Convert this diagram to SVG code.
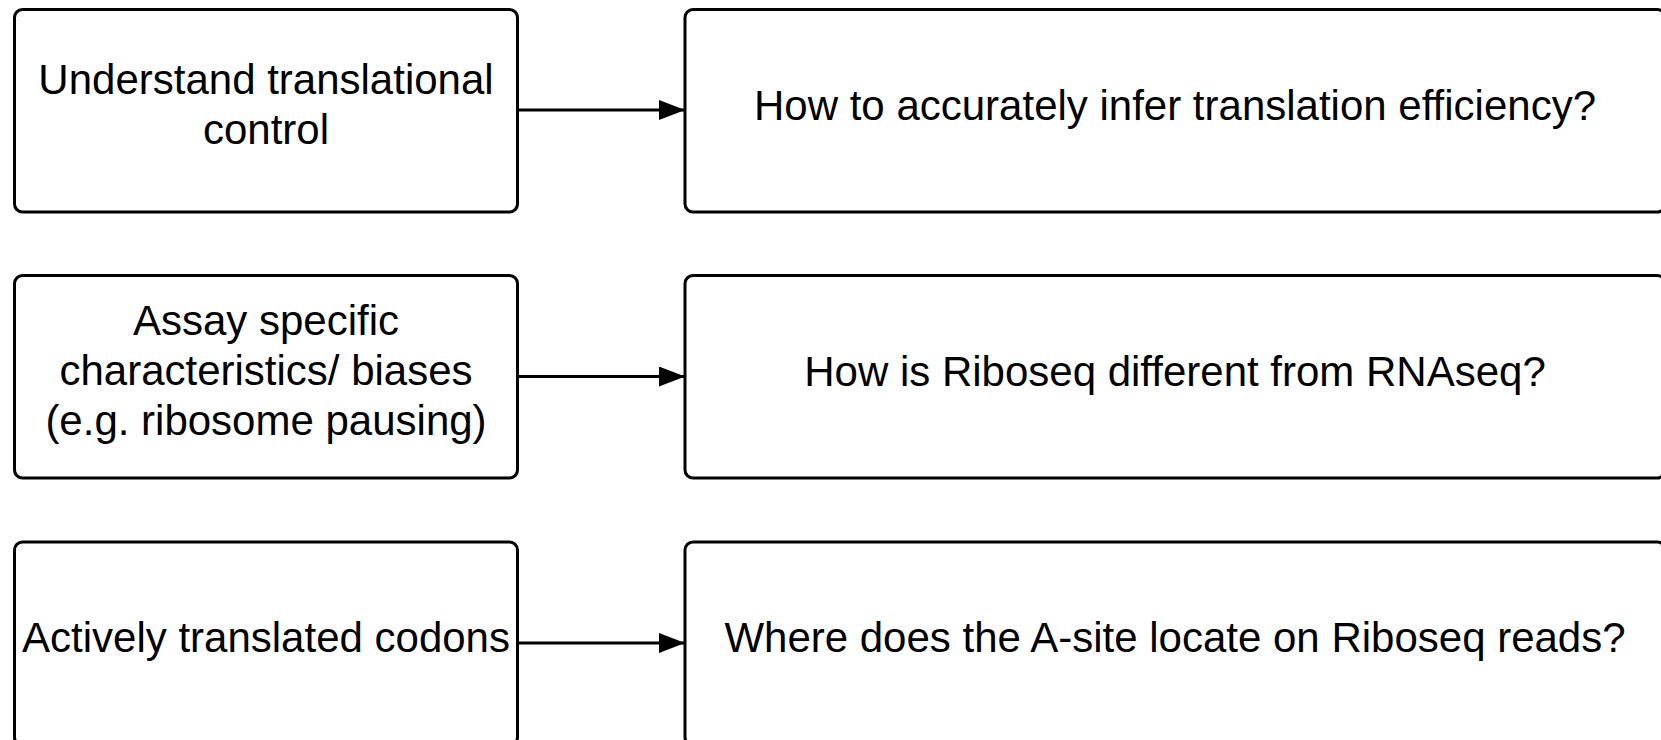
<svg xmlns="http://www.w3.org/2000/svg" width="1661" height="740" viewBox="0 0 1661 740">
<style>
.box{fill:#fff;stroke:#000;stroke-width:3}
.t{font-family:"Liberation Sans",Arial,sans-serif;font-size:42px;fill:#000;text-anchor:middle}
.c{stroke:#000;stroke-width:3;fill:none}
</style>
<defs>
<marker id="ah" markerUnits="userSpaceOnUse" markerWidth="27" markerHeight="20" refX="26" refY="10" orient="auto">
<path d="M0,0 L26,10 L0,20 Z" fill="#000"/>
</marker>
</defs>
<rect width="1661" height="740" fill="#fff"/>
<g id="n1">
<rect class="box" x="14.5" y="9.5" width="503" height="202.5" rx="8"/>
<text class="t" x="266" y="93.5">Understand translational</text>
<text class="t" x="266" y="143.5">control</text>
</g>
<g id="n2">
<rect class="box" x="685" y="9.5" width="980" height="202.5" rx="8"/>
<text class="t" x="1175" y="119.5">How to accurately infer translation efficiency?</text>
</g>
<g id="n3">
<rect class="box" x="14.5" y="275.5" width="503" height="202.5" rx="8"/>
<text class="t" x="266" y="334.5">Assay specific</text>
<text class="t" x="266" y="384.5">characteristics/ biases</text>
<text class="t" x="266" y="434.5">(e.g. ribosome pausing)</text>
</g>
<g id="n4">
<rect class="box" x="685" y="275.5" width="980" height="202.5" rx="8"/>
<text class="t" x="1175" y="385.5">How is Riboseq different from RNAseq?</text>
</g>
<g id="n5">
<rect class="box" x="14.5" y="542" width="503" height="203" rx="8"/>
<text class="t" x="266" y="652">Actively translated codons</text>
</g>
<g id="n6">
<rect class="box" x="685" y="542" width="980" height="203" rx="8"/>
<text class="t" x="1175" y="652">Where does the A-site locate on Riboseq reads?</text>
</g>
<g id="connectors">
<line class="c" x1="517.5" y1="110" x2="685" y2="110" marker-end="url(#ah)"/>
<line class="c" x1="517.5" y1="376.5" x2="685" y2="376.5" marker-end="url(#ah)"/>
<line class="c" x1="517.5" y1="643" x2="685" y2="643" marker-end="url(#ah)"/>
</g>
</svg>
